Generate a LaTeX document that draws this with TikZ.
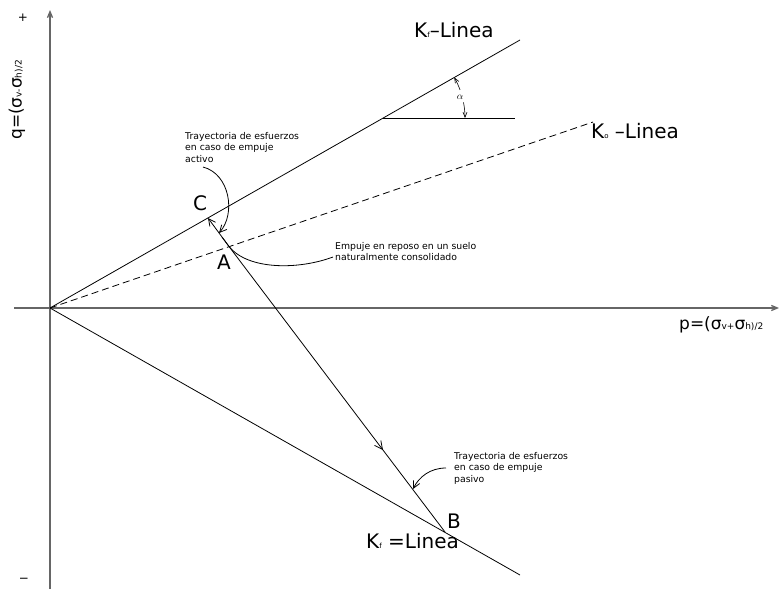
\documentclass[tikz,border=0pt]{standalone}
\usepackage{fontspec}
\setmainfont{DejaVu Sans}
\usetikzlibrary{arrows.meta,decorations.markings,calc}
\newcommand{\smallsub}[1]{{\fontsize{7}{7}\selectfont #1}}
\newcommand{\axsub}[1]{{\fontsize{9}{9}\selectfont #1}}
\begin{document}
\begin{tikzpicture}[x=1pt,y=-1pt,
  axis/.style={line width=1.3pt,draw=black!60},
  ln/.style={line width=0.8pt},
  dsh/.style={line width=0.8pt,dash pattern=on 7pt off 4pt},
  big/.style={font=\fontsize{20}{24}\selectfont,inner sep=0pt},
  note/.style={font=\fontsize{9.3}{11.5}\selectfont,align=left,inner sep=0pt,anchor=north west},
  tip/.style={-{Straight Barb[length=7pt,width=7pt]}},
  midtip/.style={postaction={decorate},decoration={markings,mark=at position #1 with {\arrow{Straight Barb[length=8pt,width=8pt]}}}},
]
\useasboundingbox (0,0) rectangle (779,589);
% coordinates
\coordinate (O) at (50,308);
\coordinate (Ytop) at (50,10);
\coordinate (Ybot) at (50,589);
\coordinate (Xl) at (14,308);
\coordinate (Xr) at (779,308);
\coordinate (KfU) at (520,40);
\coordinate (Ko) at (593,122);
\coordinate (KfL) at (520,575);
\coordinate (H1) at (383,118);
\coordinate (H2) at (515,118);
\coordinate (A) at (229,246.5);
\coordinate (Aext) at (222,237);
\coordinate (C) at (208,218);
\coordinate (B) at (445,532);
% axes
\draw[axis,-{Straight Barb[length=6pt,width=5pt]}] (Ybot) -- (Ytop);
\draw[axis,-{Straight Barb[length=6pt,width=5pt]}] (Xl) -- (Xr);
% lines
\draw[ln] (O) -- (KfU);
\draw[dsh] (O) -- (Ko);
\draw[ln] (O) -- (KfL);
\draw[ln] (H1) -- (H2);
% angle alpha
\coordinate (Ea) at ($(H1)+(-29.7:82)$);
\coordinate (Ec) at ($(H1)+(-11:82)$);
\draw[ln,line width=0.6pt,{Straight Barb[length=5pt,width=4pt]}-] (Ea) arc[start angle=29.7,end angle=20,radius=82pt];
\draw[ln,line width=0.6pt,-{Straight Barb[length=5pt,width=4pt]}] (Ec) arc[start angle=11,end angle=0,radius=82pt];
\node[font=\fontsize{10}{10}\selectfont,inner sep=0pt] (alpha) at (460,97) {$\alpha$};
% stress paths
\draw[ln] (Aext) -- (A);
\draw[ln,midtip=0.713] (A) -- (B);
\draw[ln,tip] (A) -- (C);
% labels
\node[big] (labC) at (200,203) {C};
\node[big] (labA) at (224,262) {A};
\node[big] (labB) at (454,521) {B};
\node[big,anchor=west] (lKfU) at (414,30) {K\smallsub{f}–Linea};
\node[big,anchor=west] (lKo) at (591,131) {K\smallsub{o} –Linea};
\node[big,anchor=west] (lKfL) at (366,541) {K\smallsub{f} =Linea};
\node[inner sep=0pt,anchor=west,font=\fontsize{17}{20}\selectfont] (px) at (679,325) {p=(σ\axsub{v+}σ\axsub{h)/2}};
\node[inner sep=0pt,rotate=90,font=\fontsize{17}{20}\selectfont] (qy) at (17,100) {q=(σ\axsub{v-}σ\axsub{h)/2}};
\node[font=\fontsize{12}{12}\selectfont,inner sep=0pt] (plus) at (23,18) {+};
\node[font=\fontsize{12}{12}\selectfont,inner sep=0pt] (minus) at (24,580) {−};
% notes
\node[note] (nAct) at (185,132) {Trayectoria de esfuerzos\\en caso de empuje\\activo};
\node[note] (nRep) at (335,242) {Empuje en reposo en un suelo\\naturalmente consolidado};
\node[note] (nPas) at (454,452) {Trayectoria de esfuerzos\\en caso de empuje\\pasivo};
% leader curves
\coordinate (cAct0) at (203,167);
\coordinate (cAct1) at (219,233);
\draw[ln,tip] (cAct0) .. controls (230,174) and (236,214) .. (cAct1);
\coordinate (cRep1) at (333,257);
\draw[ln] (A) .. controls (248,270) and (298,270) .. (cRep1);
\coordinate (cPas0) at (446,468);
\coordinate (cPas1) at (413,489);
\draw[ln,tip] (cPas0) .. controls (430,468) and (419,477) .. (cPas1);
\end{tikzpicture}
\end{document}
